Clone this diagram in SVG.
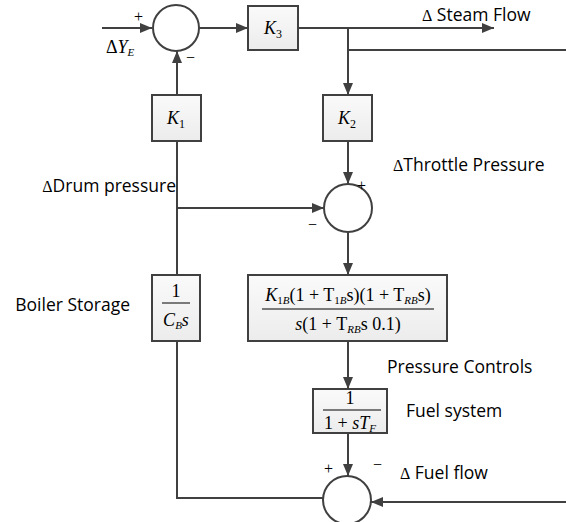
<svg xmlns="http://www.w3.org/2000/svg" width="566" height="522" viewBox="0 0 566 522">
<style>
.ln{stroke:#404040;stroke-width:2;fill:none}
.bx{fill:url(#g);stroke:#404040;stroke-width:2}
.cr{fill:#fff;stroke:#404040;stroke-width:2}
.lb{font-family:"Open Sans","Noto Sans",sans-serif;font-size:17.5px;fill:#000}
.m{font-family:"Liberation Serif","Times New Roman",serif;font-size:18px;fill:#000}
.mi{font-style:italic}
.sg{font-family:"Liberation Serif",serif;font-size:16px;fill:#000}
</style>
<defs>
<linearGradient id="g" x1="0" y1="0" x2="0" y2="1"><stop offset="0" stop-color="#fafafa"/><stop offset="1" stop-color="#ececec"/></linearGradient>
<marker id="a" viewBox="0 0 12 10" refX="12" refY="5" markerWidth="12" markerHeight="10" markerUnits="userSpaceOnUse" orient="auto"><path d="M0,0 L12,5 L0,10 z" fill="#404040"/></marker>
</defs>
<g id="connectors">
<path class="ln" d="M102,28 H152" marker-end="url(#a)"/>
<path class="ln" d="M199,28 H248" marker-end="url(#a)"/>
<path class="ln" d="M298,28 H494" marker-end="url(#a)"/>
<path class="ln" d="M348,28 V95" marker-end="url(#a)"/>
<path class="ln" d="M348,50 H566"/>
<path class="ln" d="M177,95 V51" marker-end="url(#a)"/>
<path class="ln" d="M348,141 V184" marker-end="url(#a)"/>
<path class="ln" d="M177,141 V275"/>
<path class="ln" d="M177,208 H324" marker-end="url(#a)"/>
<path class="ln" d="M348,232 V275" marker-end="url(#a)"/>
<path class="ln" d="M348,341 V389" marker-end="url(#a)"/>
<path class="ln" d="M348,433 V476" marker-end="url(#a)"/>
<path class="ln" d="M177,341 V498 H323"/>
<path class="ln" d="M566,502 H371" marker-end="url(#a)"/>
</g>
<g id="sum1"><circle class="cr" cx="176" cy="28" r="23"/><text class="sg" x="134" y="22">+</text><text class="sg" x="186" y="63">−</text></g>
<g id="k3"><rect class="bx" x="248" y="6" width="50" height="44"/><text class="m" x="273" y="34" text-anchor="middle"><tspan class="mi">K</tspan><tspan font-size="12" dy="4">3</tspan></text></g>
<g id="k1"><rect class="bx" x="152" y="95" width="49" height="46"/><text class="m" x="176" y="124" text-anchor="middle"><tspan class="mi">K</tspan><tspan font-size="12" dy="4">1</tspan></text></g>
<g id="k2"><rect class="bx" x="323" y="95" width="49" height="46"/><text class="m" x="347" y="124" text-anchor="middle"><tspan class="mi">K</tspan><tspan font-size="12" dy="4">2</tspan></text></g>
<g id="sum2"><circle class="cr" cx="348" cy="208" r="24"/><text class="sg" x="357" y="191">+</text><text class="sg" x="308" y="230">−</text></g>
<g id="boiler"><rect class="bx" x="152" y="275" width="48" height="66"/><text class="m" x="176" y="297" text-anchor="middle">1</text><line x1="162" y1="303" x2="190" y2="303" stroke="#000" stroke-width="1"/><text class="m" x="176" y="326" text-anchor="middle"><tspan class="mi">C</tspan><tspan class="mi" font-size="11" dy="3">B</tspan><tspan class="mi" dy="-3">s</tspan></text></g>
<g id="controller"><rect class="bx" x="248" y="275" width="199" height="66"/>
<text class="m" x="348" y="301" text-anchor="middle"><tspan class="mi">K</tspan><tspan font-size="11" dy="3">1</tspan><tspan class="mi" font-size="11">B</tspan><tspan dy="-3">(1 + T</tspan><tspan font-size="11" dy="3">1</tspan><tspan class="mi" font-size="11">B</tspan><tspan dy="-3">s)(1 + T</tspan><tspan class="mi" font-size="11" dy="3">RB</tspan><tspan dy="-3">s)</tspan></text>
<line x1="262" y1="309" x2="434" y2="309" stroke="#000" stroke-width="1"/>
<text class="m" x="348" y="330" text-anchor="middle"><tspan class="mi">s</tspan><tspan>(1 + T</tspan><tspan class="mi" font-size="11" dy="3">RB</tspan><tspan dy="-3">s 0.1)</tspan></text></g>
<g id="fuel"><rect class="bx" x="313" y="389" width="74" height="44"/><text class="m" x="350" y="404" text-anchor="middle">1</text><line x1="323" y1="410" x2="381" y2="410" stroke="#000" stroke-width="1"/><text class="m" x="350" y="429" text-anchor="middle"><tspan>1 + </tspan><tspan class="mi">sT</tspan><tspan class="mi" font-size="11" dy="3">F</tspan></text></g>
<g id="sum3"><circle class="cr" cx="347" cy="500" r="24"/><text class="sg" x="324" y="474">+</text><text class="sg" x="373" y="470">−</text></g>
<g id="labels">
<text class="m" x="106" y="53">Δ<tspan class="mi">Y</tspan><tspan class="mi" font-size="11" dy="3">E</tspan></text>
<text class="lb" x="422" y="21"><tspan class="sg">Δ</tspan> Steam Flow</text>
<text class="lb" x="393" y="171"><tspan class="sg">Δ</tspan>Throttle Pressure</text>
<text class="lb" x="176" y="192" text-anchor="end"><tspan class="sg">Δ</tspan>Drum pressure</text>
<text class="lb" x="130" y="311" text-anchor="end">Boiler Storage</text>
<text class="lb" x="387" y="373">Pressure Controls</text>
<text class="lb" x="406" y="417">Fuel system</text>
<text class="lb" x="400" y="479"><tspan class="sg">Δ</tspan> Fuel flow</text>
</g>
</svg>
